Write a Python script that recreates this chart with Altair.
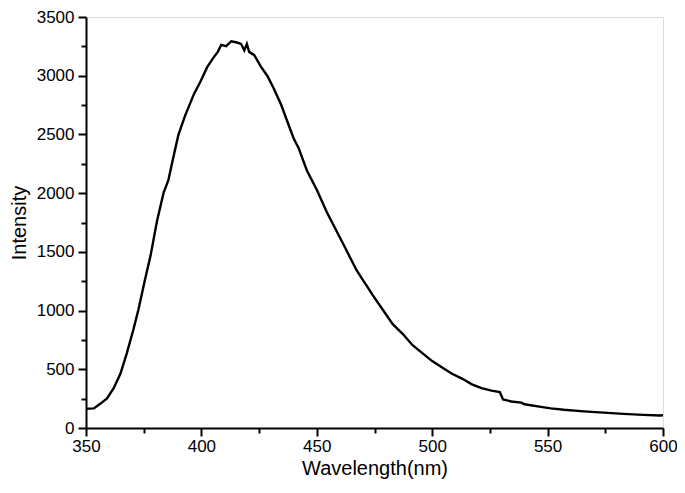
import altair as alt
import pandas as pd

wavelength = [350.0, 351.0, 353.4, 356.3, 359.1, 362.0, 364.9, 367.7, 370.6, 372.7,
              375.6, 378.0, 380.7, 383.6, 385.7, 387.2, 390.0, 392.9, 396.8, 399.6,
              402.5, 405.0, 407.1, 408.6, 410.7, 412.9, 415.0, 417.2, 418.6, 419.7,
              420.7, 422.9, 425.7, 428.6, 431.4, 434.6, 437.8, 440.0, 442.1, 445.7,
              450.0, 454.3, 458.6, 462.9, 467.1, 470.0, 472.0, 474.3, 478.6, 482.9,
              487.2, 491.4, 495.7, 500.0, 504.3, 508.6, 512.9, 517.2, 521.4, 525.7,
              529.3, 530.7, 534.3, 538.6, 540.0, 547.1, 551.4, 557.1, 565.7, 574.3,
              582.9, 591.4, 598.6, 600.0]
intensity = [165, 165, 167, 208, 251, 339, 462, 638, 843, 1007,
             1266, 1470, 1757, 2002, 2111, 2248, 2494, 2658, 2845, 2950,
             3073, 3148, 3203, 3263, 3252, 3293, 3285, 3271, 3216, 3271,
             3203, 3175, 3080, 2998, 2889, 2750, 2580, 2466, 2385, 2193,
             2029, 1839, 1675, 1511, 1348, 1260, 1200, 1129, 1007, 884,
             802, 707, 638, 570, 516, 462, 421, 372, 339, 318,
             305, 243, 226, 216, 202, 180, 167, 155, 142, 131,
             120, 112, 106, 108]

x_ticks = list(range(350, 601, 25))
y_ticks = list(range(0, 3501, 250))

df = pd.DataFrame({"wl": wavelength, "I": intensity})

FONT = "Liberation Sans"

x_axis = alt.Axis(
    values=x_ticks, format="d",
    labelExpr="datum.value % 50 == 0 ? datum.label : ''",
    tickSize={"condition": {"test": "datum.value % 50 == 0", "value": 8}, "value": 5},
    grid=False, domainColor="black", domainWidth=2, tickColor="black", tickWidth=2,
    labelFont=FONT, labelFontSize=17, labelColor="black", labelPadding=2,
    titleFont=FONT, titleFontSize=20, titleFontWeight="normal", titleColor="black",
    titlePadding=4, labelFlush=False, labelOverlap=False,
)
y_axis = alt.Axis(
    values=y_ticks, format="d",
    labelExpr="datum.value % 500 == 0 ? datum.label : ''",
    tickSize={"condition": {"test": "datum.value % 500 == 0", "value": 8}, "value": 5},
    grid=False, domainColor="black", domainWidth=2, tickColor="black", tickWidth=2,
    labelFont=FONT, labelFontSize=17, labelColor="black", labelPadding=4,
    titleFont=FONT, titleFontSize=20, titleFontWeight="normal", titleColor="black",
    titlePadding=7, labelFlush=False, labelOverlap=False,
)

chart = (
    alt.Chart(df)
    .mark_line(color="black", strokeWidth=2.4)
    .encode(
        x=alt.X("wl:Q", title="Wavelength(nm)", scale=alt.Scale(domain=[350, 600], nice=False, zero=False), axis=x_axis),
        y=alt.Y("I:Q", title="Intensity", scale=alt.Scale(domain=[0, 3500], nice=False), axis=y_axis),
    )
    .properties(
        width=577, height=411,
        autosize=alt.AutoSizeParams(type="none"),
        padding={"left": 78, "top": 9, "right": 14, "bottom": 51},
    )
    .configure_view(stroke=None)
    .configure(background="white")
)

chart.save("out.html", embed_options={"renderer": "svg", "actions": False})
